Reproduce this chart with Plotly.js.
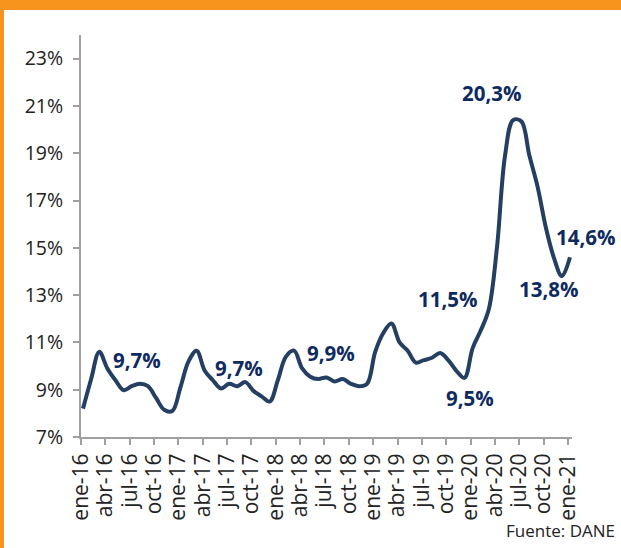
<!DOCTYPE html>
<html>
<head>
<meta charset="utf-8">
<script src="https://cdn.plot.ly/plotly-3.0.1.min.js"></script>
<style>
  html, body { margin: 0; padding: 0; background: #ffffff; }
  #wrap { position: relative; width: 621px; height: 548px; overflow: hidden; }
  #chart { position: absolute; left: 0; top: 0; width: 621px; height: 548px; }
  .band { position: absolute; background: #F7941D; z-index: 5; }
</style>
</head>
<body>
<div id="wrap">
  <div id="chart"></div>
  <div class="band" style="left:0;top:0;width:621px;height:10px;"></div>
  <div class="band" style="left:0;top:0;width:4px;height:548px;"></div>
</div>
<script>
// Monthly categories (Jan 2016 - Jan 2021)
const months = [
  "ene-16","feb-16","mar-16","abr-16","may-16","jun-16","jul-16","ago-16","sep-16","oct-16","nov-16","dic-16",
  "ene-17","feb-17","mar-17","abr-17","may-17","jun-17","jul-17","ago-17","sep-17","oct-17","nov-17","dic-17",
  "ene-18","feb-18","mar-18","abr-18","may-18","jun-18","jul-18","ago-18","sep-18","oct-18","nov-18","dic-18",
  "ene-19","feb-19","mar-19","abr-19","may-19","jun-19","jul-19","ago-19","sep-19","oct-19","nov-19","dic-19",
  "ene-20","feb-20","mar-20","abr-20","may-20","jun-20","jul-20","ago-20","sep-20","oct-20","nov-20","dic-20",
  "ene-21"
];

// Unemployment rate (%)
const rate = [
  8.2, 9.45, 10.6, 9.9, 9.4, 8.98, 9.15, 9.25, 9.15, 8.65, 8.15, 8.1,
  9.1, 10.2, 10.65, 9.8, 9.4, 9.05, 9.25, 9.15, 9.32, 8.95, 8.72, 8.5,
  9.4, 10.4, 10.65, 9.9, 9.55, 9.45, 9.52, 9.35, 9.45, 9.25, 9.15, 9.25,
  10.6, 11.4, 11.8, 11.0, 10.65, 10.15, 10.25, 10.35, 10.55, 10.25, 9.8, 9.5,
  10.75, 11.5, 12.4, 15.0, 18.9, 20.4, 20.35, 18.9, 17.6, 15.9, 14.6, 13.8,
  14.6
];

// Axis tick labels (every third month)
const tickLabels = [
  "ene-16","abr-16","jul-16","oct-16","ene-17","abr-17","jul-17","oct-17",
  "ene-18","abr-18","jul-18","oct-18","ene-19","abr-19","jul-19","oct-19",
  "ene-20","abr-20","jul-20","oct-20","ene-21"
];
const yTicks = [7, 9, 11, 13, 15, 17, 19, 21, 23];

// Data labels
const labelTexts = ["9,7%", "9,7%", "9,9%", "11,5%", "9,5%", "20,3%", "14,6%", "13,8%"];

const FONT = "Open Sans, DejaVu Sans, sans-serif";
const LINE = "#243F62";
const LBL = "#0E2A5E";
const TICK_OFFSET = -0.25; // tick marks sit just left of the category point

const tickPos = tickLabels.map(t => months.indexOf(t) + TICK_OFFSET);

const trace = {
  type: "scatter",
  mode: "lines",
  x: months.map((m, i) => i),
  y: rate,
  text: months,
  line: { color: LINE, width: 4, shape: "spline", smoothing: 1 },
  hoverinfo: "text+y"
};

// label placement (layout only)
const lblPos = [
  { x: 6.6, y: 10.26 },
  { x: 19.25, y: 9.92 },
  { x: 30.55, y: 10.56 },
  { x: 44.85, y: 12.82 },
  { x: 47.7, y: 8.64 },
  { x: 50.35, y: 21.53 },
  { x: 60, y: 15.44, xshift: 16 },
  { x: 57.35, y: 13.25 }
];

const annotations = labelTexts.map((t, i) => ({
  text: "<b>" + t + "</b>",
  x: lblPos[i].x, y: lblPos[i].y, xref: "x", yref: "y",
  xshift: lblPos[i].xshift || 0,
  showarrow: false,
  xanchor: "center", yanchor: "middle",
  font: { family: FONT, size: 20.5, color: LBL }
}));

annotations.push({
  text: "Fuente: DANE",
  xref: "paper", yref: "paper",
  x: 1.092, y: -0.232,
  xanchor: "right", yanchor: "middle",
  showarrow: false,
  font: { family: FONT, size: 17, color: "#222222" }
});

const layout = {
  width: 621, height: 548,
  margin: { l: 81, r: 49, t: 35, b: 111, pad: 0 },
  paper_bgcolor: "#ffffff",
  plot_bgcolor: "#ffffff",
  showlegend: false,
  font: { family: FONT, color: "#222222" },
  xaxis: {
    type: "linear",
    range: [TICK_OFFSET, 60.25],
    tickmode: "array",
    tickvals: tickPos,
    ticktext: tickLabels,
    tickangle: -90,
    ticks: "outside", ticklen: 6, tickwidth: 2, tickcolor: "#A0A0A0",
    showline: true, linecolor: "#A0A0A0", linewidth: 2,
    showgrid: false, zeroline: false,
    tickfont: { family: FONT, size: 21, color: "#222222" }
  },
  yaxis: {
    range: [7, 24],
    tickmode: "array",
    tickvals: yTicks,
    ticktext: yTicks.map(v => v + "%"),
    ticks: "outside", ticklen: 6, tickwidth: 2, tickcolor: "#A0A0A0",
    showline: true, linecolor: "#A0A0A0", linewidth: 2,
    showgrid: false, zeroline: false,
    ticklabelstandoff: 6,
    tickfont: { family: FONT, size: 19.5, color: "#222222" }
  },
  annotations: annotations
};

Plotly.newPlot("chart", [trace], layout, { displayModeBar: false, staticPlot: true });
</script>
</body>
</html>
